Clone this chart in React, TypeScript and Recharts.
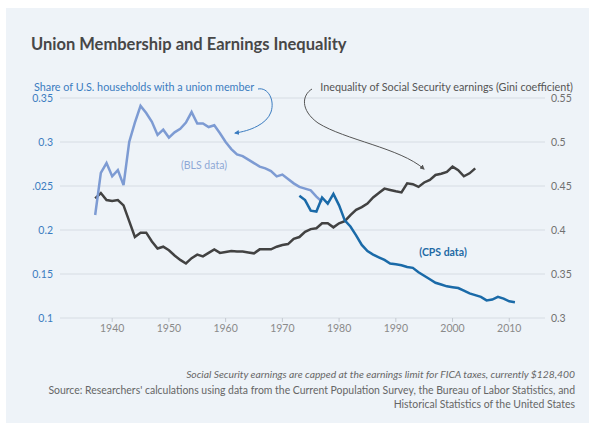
import React from "react";
import { ComposedChart, Line, XAxis, YAxis, CartesianGrid } from "recharts";

// union share of households, BLS series (annual from 1937)
const blsStart = 1937;
const blsShare = [
  0.217, 0.265, 0.276, 0.261, 0.268, 0.251, 0.3, 0.322, 0.341, 0.333, 0.323, 0.308,
  0.314, 0.305, 0.311, 0.315, 0.322, 0.334, 0.321, 0.321, 0.317, 0.319, 0.31, 0.3,
  0.292, 0.286, 0.284, 0.28, 0.276, 0.272, 0.27, 0.267, 0.261, 0.263, 0.258, 0.253,
  0.249, 0.247, 0.245, 0.238, 0.232,
];

// union share of households, CPS series (annual from 1973)
const cpsStart = 1973;
const cpsShare = [
  0.239, 0.234, 0.222, 0.221, 0.237, 0.23, 0.241, 0.228, 0.211, 0.204, 0.194, 0.183,
  0.176, 0.172, 0.169, 0.166, 0.162, 0.161, 0.16, 0.158, 0.157, 0.152, 0.148, 0.144,
  0.14, 0.138, 0.136, 0.135, 0.134, 0.131, 0.128, 0.126, 0.124, 0.12, 0.121, 0.124,
  0.122, 0.119, 0.118,
];

// Gini coefficient of Social Security earnings (annual from 1937)
const giniStart = 1937;
const gini = [
  0.436, 0.442, 0.434, 0.433, 0.434, 0.428, 0.41, 0.392, 0.397, 0.397, 0.387, 0.379,
  0.381, 0.377, 0.371, 0.366, 0.362, 0.368, 0.372, 0.37, 0.374, 0.378, 0.374, 0.375,
  0.376, 0.3755, 0.3755, 0.3745, 0.3735, 0.378, 0.378, 0.378, 0.381, 0.383, 0.384,
  0.39, 0.392, 0.398, 0.401, 0.402, 0.4076, 0.4076, 0.403, 0.4076, 0.41, 0.417, 0.423,
  0.426, 0.43, 0.437, 0.442, 0.447, 0.4455, 0.444, 0.4427, 0.453, 0.452, 0.449, 0.454,
  0.457, 0.4625, 0.464, 0.466, 0.472, 0.468, 0.461, 0.4644, 0.47,
];

const yearTicks = [1940, 1950, 1960, 1970, 1980, 1990, 2000, 2010];
const leftTicks = [0.1, 0.15, 0.2, 0.25, 0.3, 0.35];
const leftTickLabels = ["0.1", "0.15", "0.2", ".025", "0.3", "0.35"];
const rightTicks = [0.3, 0.35, 0.4, 0.45, 0.5, 0.55];
const rightTickLabels = ["0.3", "0.35", "0.4", "0.45", "0.5", "0.55"];

const FONT = "Lato, 'Open Sans', sans-serif";

function buildRows() {
  const rows: { year: number; bls?: number; cps?: number; gini?: number }[] = [];
  for (let y = 1937; y <= 2011; y++) {
    const r: { year: number; bls?: number; cps?: number; gini?: number } = { year: y };
    const bi = y - blsStart;
    if (bi >= 0 && bi < blsShare.length) r.bls = blsShare[bi];
    const ci = y - cpsStart;
    if (ci >= 0 && ci < cpsShare.length) r.cps = cpsShare[ci];
    const gi = y - giniStart;
    if (gi >= 0 && gi < gini.length) r.gini = gini[gi];
    rows.push(r);
  }
  return rows;
}

const data = buildRows();

export default function App() {
  return (
    <div
      style={{
        position: "absolute",
        left: 0,
        top: 0,
        width: 594,
        height: 427,
        background: "#ffffff",
        fontFamily: FONT,
      }}
    >
      <div
        style={{
          position: "absolute",
          left: 6,
          top: 8,
          width: 583,
          height: 415,
          background: "#eef3f8",
        }}
      />
      <div style={{ position: "absolute", left: 0, top: 0 }}>
        <ComposedChart
          width={594}
          height={427}
          data={data}
          margin={{ top: 98, right: 9, bottom: 79, left: 20 }}
        >
          <CartesianGrid yAxisId="left" vertical={false} stroke="#d6dce3" strokeWidth={1} />
          <XAxis
            dataKey="year"
            type="number"
            domain={[1930.8, 2016.3]}
            ticks={yearTicks}
            allowDataOverflow
            axisLine={false}
            tickLine={{ stroke: "#c3c9d0" }}
            tickSize={4}
            tickMargin={3}
            height={30}
            tick={{ fontSize: 10.5, fill: "#8a8a8a", fontFamily: FONT }}
          />
          <YAxis
            yAxisId="left"
            orientation="left"
            domain={[0.1, 0.35]}
            ticks={leftTicks}
            width={40}
            axisLine={false}
            tickLine={false}
            tickSize={5}
            tickMargin={2}
            tickFormatter={(v: number) => leftTickLabels[leftTicks.indexOf(v)] ?? String(v)}
            tick={{ fontSize: 10.5, fill: "#3b7cc0", fontFamily: FONT }}
          />
          <YAxis
            yAxisId="right"
            orientation="right"
            domain={[0.3, 0.55]}
            ticks={rightTicks}
            width={40}
            axisLine={false}
            tickLine={false}
            tickSize={4}
            tickMargin={2}
            tickFormatter={(v: number) => rightTickLabels[rightTicks.indexOf(v)] ?? String(v)}
            tick={{ fontSize: 10.5, fill: "#707070", fontFamily: FONT }}
          />
          <Line
            yAxisId="right"
            dataKey="gini"
            stroke="#424242"
            strokeWidth={2.5}
            dot={false}
            type="linear"
            isAnimationActive={false}
          />
          <Line
            yAxisId="left"
            dataKey="bls"
            stroke="#7d9bd3"
            strokeWidth={2.5}
            dot={false}
            type="linear"
            isAnimationActive={false}
          />
          <Line
            yAxisId="left"
            dataKey="cps"
            stroke="#1a6aa8"
            strokeWidth={2.5}
            dot={false}
            type="linear"
            isAnimationActive={false}
          />
        </ComposedChart>
      </div>
      <svg
        width={594}
        height={427}
        style={{ position: "absolute", left: 0, top: 0, pointerEvents: "none" }}
        fontFamily={FONT}
      >
        <defs>
          <marker id="headBlue" viewBox="0 0 10 10" refX="8" refY="5" markerWidth="5" markerHeight="5" orient="auto">
            <path d="M0,0 L10,5 L0,10 z" fill="#3b7cc0" />
          </marker>
          <marker id="headGray" viewBox="0 0 10 10" refX="8" refY="5" markerWidth="5" markerHeight="5" orient="auto">
            <path d="M0,0 L10,5 L0,10 z" fill="#555" />
          </marker>
        </defs>
        <text x={31} y={50} fontSize={16.5} fontWeight={700} fill="#474747">
          Union Membership and Earnings Inequality
        </text>
        <text x={34} y={91} fontSize={10.8} fill="#3b7cc0">
          Share of U.S. households with a union member
        </text>
        <text x={573} y={91} fontSize={10.8} fill="#555" textAnchor="end">
          Inequality of Social Security earnings (Gini coefficient)
        </text>
        <path
          d="M258,89 C268,87 275,100 271,112 C267,124 250,131 235,133"
          fill="none"
          stroke="#3b7cc0"
          strokeWidth={1}
          markerEnd="url(#headBlue)"
        />
        <path
          d="M312,89 C302,95 300,110 318,123 C345,140 400,148 424,169"
          fill="none"
          stroke="#555"
          strokeWidth={1}
          markerEnd="url(#headGray)"
        />
        <text x={204} y={169} fontSize={10.5} fill="#8ea8d6" textAnchor="middle">
          (BLS data)
        </text>
        <text x={443} y={256} fontSize={10.5} fontWeight={700} fill="#1f6aa5" textAnchor="middle">
          (CPS data)
        </text>
        <text x={575} y={378} fontSize={10.3} fontStyle="italic" fill="#666" textAnchor="end">
          Social Security earnings are capped at the earnings limit for FICA taxes, currently $128,400
        </text>
        <text x={575} y={394} fontSize={10.45} fill="#666" textAnchor="end">
          Source: Researchers' calculations using data from the Current Population Survey, the Bureau of Labor Statistics, and
        </text>
        <text x={575} y={408} fontSize={10.45} fill="#666" textAnchor="end">
          Historical Statistics of the United States
        </text>
      </svg>
    </div>
  );
}
